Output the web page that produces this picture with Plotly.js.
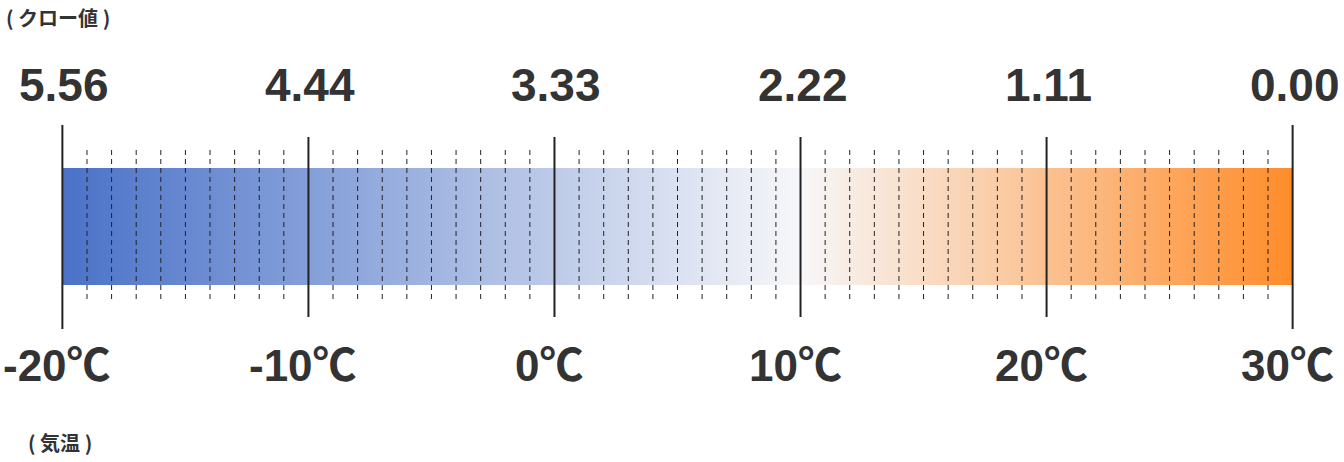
<!DOCTYPE html>
<html>
<head>
<meta charset="utf-8">
<script src="https://cdn.plot.ly/plotly-3.0.1.min.js"></script>
<style>html,body{margin:0;padding:0;background:#fff;}#chart{width:1344px;height:462px;}</style>
</head>
<body>
<div id="chart"></div>
<script>
// Data
const majorTemps = [-20, -10, 0, 10, 20, 30];
const tempLabels = ['-20℃', '-10℃', '0℃', '10℃', '20℃', '30℃'];
const cloLabels = ['5.56', '4.44', '3.33', '2.22', '1.11', '0.00'];
const minorTemps = [-19, -18, -17, -16, -15, -14, -13, -12, -11,
                    -9, -8, -7, -6, -5, -4, -3, -2, -1,
                    1, 2, 3, 4, 5, 6, 7, 8, 9,
                    11, 12, 13, 14, 15, 16, 17, 18, 19,
                    21, 22, 23, 24, 25, 26, 27, 28, 29];
const gradTemps = [-20, 10, 30];
const gradColors = ['#4a72c8', '#f7f7f9', '#ff8c2a'];
const xTitle = '( 気温 )';
const yTitle = '( クロー値 )';

const tMin = majorTemps[0], tMax = majorTemps[majorTemps.length - 1];
const FONT = 'Liberation Sans, Arial, "Noto Sans CJK JP", sans-serif';
const JFONT = '"Noto Sans CJK JP", sans-serif';

// pixel placement of the scale: tMin at 62px, tMax at 1293px
const leftPx = 62, rightPx = 1293, W = 1344;
const ppd = (rightPx - leftPx) / (tMax - tMin);
const padDeg = 0.3;

// Bar geometry (vertical, in a pixel-like y axis)
const barTop = 168, barBot = 285;

const traces = [];
traces.push({
  type: 'scatter', mode: 'lines',
  x: [tMin, tMax, tMax, tMin, tMin],
  y: [barTop, barTop, barBot, barBot, barTop],
  line: {width: 0},
  fill: 'toself',
  fillgradient: {
    type: 'horizontal',
    colorscale: gradTemps.map((t, i) => [(t - tMin) / (tMax - tMin), gradColors[i]])
  },
  hoverinfo: 'skip', showlegend: false
});
{
  const xs = [], ys = [];
  minorTemps.forEach(t => { xs.push(t, t, null); ys.push(150, 303, null); });
  traces.push({type: 'scatter', mode: 'lines', x: xs, y: ys,
    line: {color: '#222', width: 1, dash: '5px,4px'}, hoverinfo: 'skip', showlegend: false});
}
{
  const xs = [], ys = [];
  majorTemps.forEach((t, i) => {
    const edge = (i === 0 || i === majorTemps.length - 1);
    xs.push(t, t, null);
    ys.push(edge ? 125 : 137, edge ? 329 : 317, null);
  });
  traces.push({type: 'scatter', mode: 'lines', x: xs, y: ys,
    line: {color: '#222', width: 2}, hoverinfo: 'skip', showlegend: false});
}

const annotations = [];
majorTemps.forEach((t, i) => {
  annotations.push({x: t, y: 85, xref: 'x', yref: 'y', text: cloLabels[i], showarrow: false,
    xanchor: 'center', yanchor: 'middle', xshift: 2, font: {family: FONT, size: 46, color: '#333', weight: 'bold'}});
  annotations.push({x: t, y: 365, xref: 'x', yref: 'y', text: '<b>' + tempLabels[i] + '</b>', showarrow: false,
    xanchor: 'center', yanchor: 'middle', xshift: -5, font: {family: FONT, size: 44, color: '#333'}});
});
annotations.push({x: tMin, y: 17, xref: 'x', yref: 'y', xshift: -58, text: '<b>' + yTitle + '</b>', showarrow: false,
  xanchor: 'left', yanchor: 'middle', font: {family: JFONT, size: 20, color: '#333'}});
annotations.push({x: tMin, y: 442, xref: 'x', yref: 'y', xshift: -36, text: '<b>' + xTitle + '</b>', showarrow: false,
  xanchor: 'left', yanchor: 'middle', font: {family: JFONT, size: 20, color: '#333'}});

const layout = {
  width: W, height: 462,
  margin: {l: leftPx - padDeg * ppd, r: W - rightPx - padDeg * ppd, t: 0, b: 0, pad: 0},
  paper_bgcolor: '#fff', plot_bgcolor: '#fff',
  xaxis: {range: [tMin - padDeg, tMax + padDeg], visible: false, fixedrange: true},
  yaxis: {range: [462, 0], visible: false, fixedrange: true},
  annotations: annotations,
  showlegend: false
};

Plotly.newPlot('chart', traces, layout, {staticPlot: true, displayModeBar: false});
</script>
</body>
</html>
